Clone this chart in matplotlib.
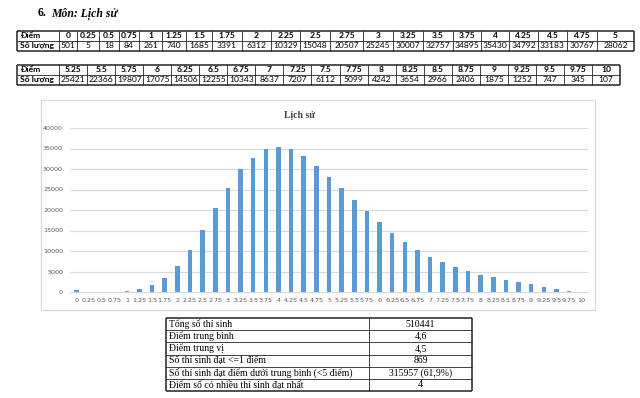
import matplotlib
matplotlib.use("Agg")
import matplotlib.pyplot as plt

# score categories and number of candidates
diem = ['0', '0.25', '0.5', '0.75', '1', '1.25', '1.5', '1.75', '2', '2.25',
        '2.5', '2.75', '3', '3.25', '3.5', '3.75', '4', '4.25', '4.5', '4.75',
        '5', '5.25', '5.5', '5.75', '6', '6.25', '6.5', '6.75', '7', '7.25',
        '7.5', '7.75', '8', '8.25', '8.5', '8.75', '9', '9.25', '9.5', '9.75', '10']
so_luong = [501, 5, 18, 84, 261, 740, 1685, 3391, 6312, 10329,
            15048, 20507, 25245, 30007, 32757, 34895, 35430, 34792, 33183, 30767,
            28062, 25421, 22366, 19807, 17075, 14506, 12255, 10343, 8637, 7207,
            6112, 5099, 4242, 3654, 2966, 2406, 1875, 1252, 747, 345, 107]

# summary table
tk_labels = ['Tổng số thí sinh', 'Điểm trung bình', 'Điểm trung vị',
             'Số thí sinh đạt <=1 điểm',
             'Số thí sinh đạt điểm dưới trung bình (<5 điểm)',
             'Điểm số có nhiều thí sinh đạt nhất']
tk_values = ['510441', '4,6', '4,5', '869', '315957 (61,9%)', '4']

W, H = 640, 398
fig = plt.figure(figsize=(W / 100, H / 100), dpi=100)
fig.patch.set_facecolor('white')

# overlay in pixel coordinates for the tables and heading
ov = fig.add_axes([0, 0, 1, 1])
ov.set_xlim(0, W)
ov.set_ylim(H, 0)
ov.axis('off')

ov.text(38, 13.5, '6.', fontsize=8.5, fontweight='bold', family='Liberation Serif',
        ha='left', va='center')
ov.text(51, 13.5, 'Môn: Lịch sử', fontsize=8.5, fontweight='bold', style='italic',
        family='Liberation Serif', ha='left', va='center')


def draw_table(x0, y0, widths, row_h, rows, font, fs, aligns, bold_rows=(), bold_first=True):
    xs = [x0]
    for w in widths:
        xs.append(xs[-1] + w)
    nrow = len(rows)
    y1 = y0 + row_h * nrow
    for i, x in enumerate(xs):
        lw = 1.1 if i in (0, len(xs) - 1) else 0.6
        ov.plot([x, x], [y0, y1], color='#222222', lw=lw, solid_capstyle='butt')
    for j in range(nrow + 1):
        y = y0 + j * row_h
        lw = 1.1 if j in (0, nrow) else 0.6
        ov.plot([x0, xs[-1]], [y, y], color='#222222', lw=lw, solid_capstyle='butt')
    for j, row in enumerate(rows):
        yc = y0 + (j + 0.5) * row_h
        for i, txt in enumerate(row):
            bold = (j in bold_rows) or (i == 0 and bold_first)
            al = aligns[i] if i < len(aligns) else aligns[-1]
            if al == 'left':
                xt = xs[i] + 3
            elif al == 'right':
                xt = xs[i + 1] - 3
            else:
                xt = (xs[i] + xs[i + 1]) / 2
            ov.text(xt, yc, txt, fontsize=fs, family=font, ha=al, va='center',
                    fontweight='bold' if bold else 'normal', color='black')


# first score table: 0 .. 5
w1 = [42, 18, 22, 20, 20, 23, 24, 26, 30, 29, 29, 30, 33, 30, 30, 30, 28, 28, 29, 29, 30, 37]
n1 = 21
draw_table(17, 30.5, w1, 10.2,
           [['Điểm'] + diem[:n1], ['Số lượng'] + [str(v) for v in so_luong[:n1]]],
           'Lato', 6.1, ['left', 'center'], bold_rows=(0,))

# second score table: 5.25 .. 10
w2 = [42] + [28.05] * 20
draw_table(17, 64.5, w2, 10.2,
           [['Điểm'] + diem[n1:], ['Số lượng'] + [str(v) for v in so_luong[n1:]]],
           'Lato', 6.1, ['left', 'center'], bold_rows=(0,))

# chart frame
ov.add_patch(plt.Rectangle((41, 100), 554, 210, fill=False, edgecolor='#d9d9d9', lw=0.8))
ov.text(300, 115.5, 'Lịch sử', fontsize=7, fontweight='bold', family='Liberation Serif',
        color='#404040', ha='center', va='center')

# summary table
draw_table(166, 318, [203, 103], 12.17,
           [[a, b] for a, b in zip(tk_labels, tk_values)],
           'Liberation Serif', 7.0, ['left', 'center'], bold_first=False)

# bar chart
ax = fig.add_axes([70 / W, 1 - 292 / H, 518 / W, 164 / H])
pos = list(range(len(diem)))
ax.bar(pos, so_luong, width=0.36, color='#5b9bd5', zorder=3)
ax.set_xlim(-0.5, len(diem) - 0.5)
ax.set_ylim(0, 40000)
ax.set_yticks(range(0, 40001, 5000))
ax.set_xticks(pos)
ax.set_xticklabels(diem)
ax.tick_params(axis='both', length=0, labelsize=4.6, labelcolor='#595959')
ax.tick_params(axis='x', pad=4)
ax.tick_params(axis='y', pad=5)
ax.grid(axis='y', color='#d9d9d9', lw=0.8, zorder=0)
for s in ['top', 'right', 'left']:
    ax.spines[s].set_visible(False)
ax.spines['bottom'].set_color('#d9d9d9')
ax.spines['bottom'].set_linewidth(0.8)
ax.patch.set_alpha(0)

fig.savefig('out.png', dpi=100)
